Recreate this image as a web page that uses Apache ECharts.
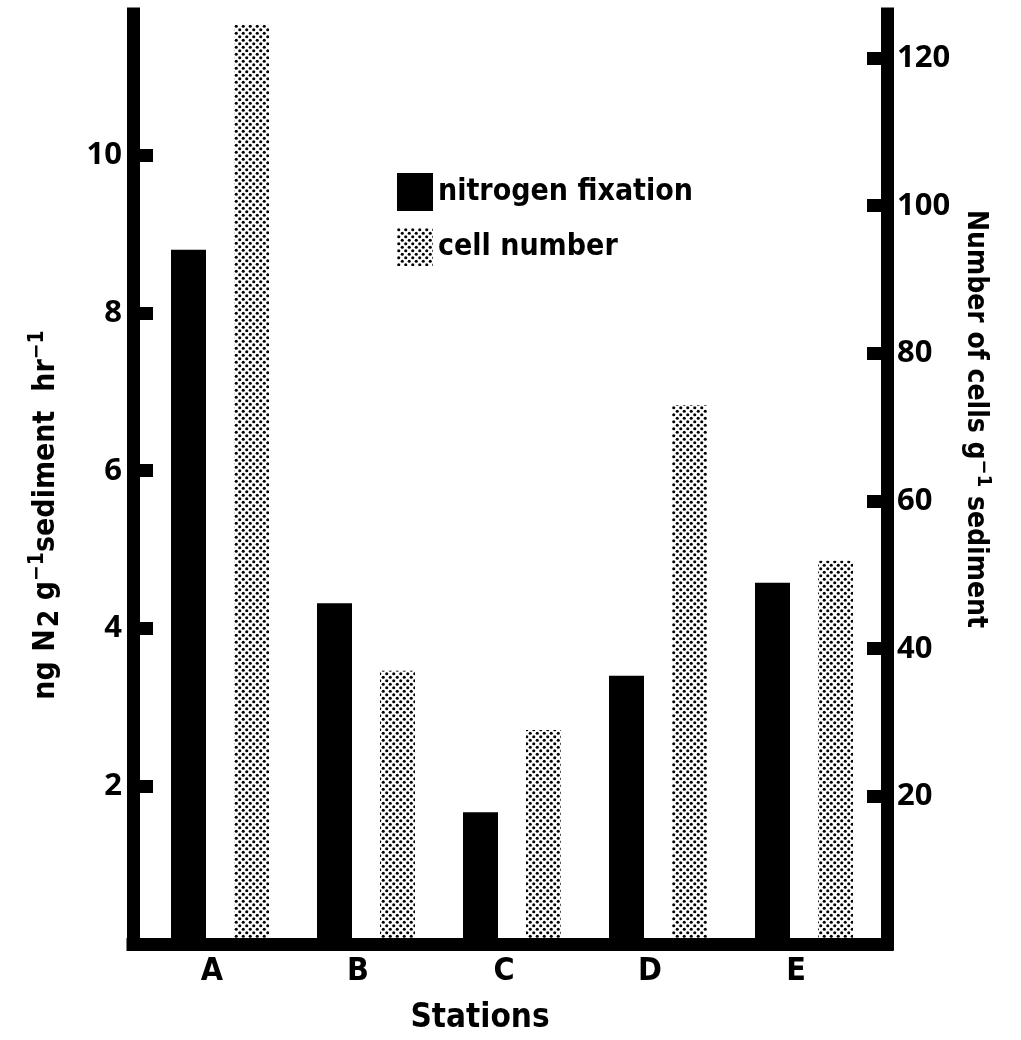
<!DOCTYPE html>
<html>
<head>
<meta charset="utf-8">
<title>Nitrogen fixation and cell number by station</title>
<script src="https://cdn.jsdelivr.net/npm/echarts@6/dist/echarts.min.js"></script>
<style>
  html, body { margin: 0; padding: 0; background: #fff; }
  #main { width: 1021px; height: 1040px; }
</style>
</head>
<body>
<div id="main"></div>
<script>
// values
const stations = ['A', 'B', 'C', 'D', 'E']
const nitrogenFixation = [8.80, 4.32, 1.67, 3.40, 4.58]   // ng N2 g-1 sediment hr-1
const cellNumber = [124.5, 37.0, 29.0, 73.0, 51.9]       // cells g-1 sediment
const leftTicks = [2, 4, 6, 8, 10]
const rightTicks = [20, 40, 60, 80, 100, 120]

const condensed = "'Liberation Sans Narrow', 'DejaVu Sans Condensed', sans-serif"
const round = "'Noto Sans', 'DejaVu Sans', sans-serif"

// halftone dot fill for the cell number bars
function dotPattern() {
  const c = document.createElement('canvas')
  c.width = 7
  c.height = 7
  const ctx = c.getContext('2d')
  ctx.fillStyle = '#fff'
  ctx.fillRect(0, 0, 7, 7)
  ctx.fillStyle = '#000'
  ;[[1.75, 1.75], [5.25, 5.25]].forEach(p => {
    ctx.beginPath()
    ctx.arc(p[0], p[1], 1.55, 0, Math.PI * 2)
    ctx.fill()
  })
  return c
}

const frameLine = { show: true, lineStyle: { color: '#000', width: 13, cap: 'square' } }
const leftMax = 11.79
const rightMax = 125.97

const chart = echarts.init(document.getElementById('main'), null, { renderer: 'canvas' })
chart.setOption({
  backgroundColor: '#fff',
  animation: false,
  legend: {
    orient: 'vertical',
    left: 397,
    top: 173,
    padding: 0,
    itemWidth: 36,
    itemHeight: 38,
    itemGap: 17,
    icon: 'rect',
    textStyle: {
      fontFamily: condensed,
      fontWeight: 'bold',
      fontSize: 30,
      color: '#000'
    },
    data: ['nitrogen fixation', 'cell number']
  },
  grid: [
    // frame with the axes
    { left: 133, right: 134, top: 14, bottom: 96 },
    // bars
    { left: 147, right: 144, top: 14, bottom: 96 }
  ],
  xAxis: [
    {
      gridIndex: 0,
      type: 'category',
      data: stations,
      z: 5,
      axisLine: frameLine,
      axisTick: { show: false },
      axisLabel: { show: false },
      name: 'Stations',
      nameLocation: 'middle',
      nameGap: 58,
      nameTextStyle: {
        fontFamily: condensed,
        fontWeight: 'bold',
        fontSize: 33,
        color: '#000',
        padding: [0, 60, 0, 0]
      }
    },
    {
      gridIndex: 1,
      type: 'category',
      data: stations,
      axisLine: { show: false },
      axisTick: { show: false },
      axisLabel: {
        margin: 12,
        fontFamily: condensed,
        fontWeight: 'bold',
        fontSize: 32,
        color: '#000',
        padding: [0, 16, 0, 0]
      }
    }
  ],
  yAxis: [
    {
      gridIndex: 0,
      type: 'value',
      position: 'left',
      min: 0,
      max: leftMax,
      interval: 2,
      z: 5,
      splitLine: { show: false },
      axisLine: frameLine,
      axisTick: {
        show: true,
        inside: true,
        length: 20,
        customValues: leftTicks,
        lineStyle: { color: '#000', width: 13 }
      },
      axisLabel: {
        customValues: leftTicks,
        margin: 11,
        fontFamily: round,
        fontWeight: 'bold',
        fontSize: 31,
        color: '#000'
      },
      name: 'ng N{sub|2} g{sup|\u22121}sediment  hr{sup|\u22121}',
      nameLocation: 'middle',
      nameRotate: 90,
      nameGap: 68,
      nameTextStyle: {
        fontFamily: condensed,
        fontWeight: 'bold',
        fontSize: 30,
        color: '#000',
        padding: [0, 72, 0, 0],
        rich: {
          sub: { fontFamily: condensed, fontWeight: 'bold', fontSize: 28, color: '#000', verticalAlign: 'bottom', padding: [10, 0, 0, 2] },
          sup: { fontFamily: condensed, fontWeight: 'bold', fontSize: 21, color: '#000', verticalAlign: 'top', padding: [0, 0, 16, 0] }
        }
      }
    },
    {
      gridIndex: 0,
      type: 'value',
      position: 'right',
      min: 0,
      max: rightMax,
      interval: 20,
      z: 5,
      splitLine: { show: false },
      axisLine: frameLine,
      axisTick: {
        show: true,
        inside: true,
        length: 20,
        customValues: rightTicks,
        lineStyle: { color: '#000', width: 13 }
      },
      axisLabel: {
        customValues: rightTicks,
        margin: 10,
        fontFamily: round,
        fontWeight: 'bold',
        fontSize: 31,
        color: '#000'
      },
      name: 'Number of cells g{sup|\u22121} sediment',
      nameLocation: 'middle',
      nameRotate: -90,
      nameGap: 70,
      nameTextStyle: {
        fontFamily: condensed,
        fontWeight: 'bold',
        fontSize: 28,
        color: '#000',
        padding: [0, 120, 0, 0],
        rich: {
          sup: { fontFamily: condensed, fontWeight: 'bold', fontSize: 20, color: '#000', verticalAlign: 'top', padding: [0, 0, 16, 0] }
        }
      }
    },
    // hidden scales for the bars, same range as the visible ones
    { gridIndex: 1, type: 'value', min: 0, max: leftMax, show: false, splitLine: { show: false } },
    { gridIndex: 1, type: 'value', min: 0, max: rightMax, show: false, splitLine: { show: false } }
  ],
  series: [
    {
      name: 'nitrogen fixation',
      type: 'bar',
      xAxisIndex: 1,
      yAxisIndex: 2,
      barWidth: 35,
      barGap: '80%',
      itemStyle: { color: '#000' },
      data: nitrogenFixation
    },
    {
      name: 'cell number',
      type: 'bar',
      xAxisIndex: 1,
      yAxisIndex: 3,
      barWidth: 35,
      barGap: '80%',
      itemStyle: { color: { image: dotPattern(), repeat: 'repeat' } },
      data: cellNumber
    }
  ]
})
</script>
</body>
</html>
